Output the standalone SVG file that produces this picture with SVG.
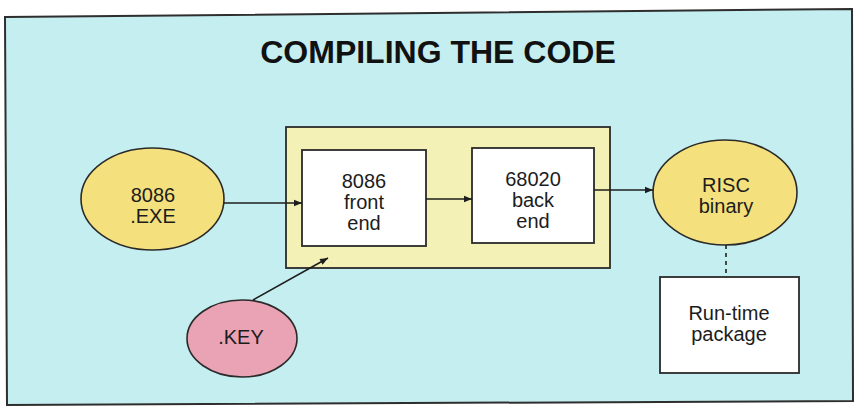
<svg xmlns="http://www.w3.org/2000/svg" width="856" height="407" viewBox="0 0 856 407">
  <defs>
    <style>
      .lbl { font-family: "Liberation Sans", Arial, sans-serif; font-size: 20px; fill: #1c1c1c; text-anchor: middle; }
      .title { font-family: "Liberation Sans", Arial, sans-serif; font-size: 32px; font-weight: bold; fill: #111; text-anchor: middle; }
      .oval { stroke: #2a2a2a; stroke-width: 1.6; }
      .yellow { fill: #f4e07c; }
      .pink { fill: #e9a3b5; }
      .box { fill: #ffffff; stroke: #2a2a2a; stroke-width: 1.8; }
      .conn { stroke: #1e1e1e; stroke-width: 1.6; fill: none; }
    </style>
    <marker id="arrow" viewBox="0 0 10 10" refX="10" refY="5" markerWidth="10" markerHeight="8" markerUnits="userSpaceOnUse" orient="auto">
      <path d="M0,1 L10,5 L0,9 Z" fill="#1e1e1e"/>
    </marker>
  </defs>

  <rect x="0" y="0" width="856" height="407" fill="#ffffff"/>
  <polygon points="5,17 852,9 853,401 7,405" fill="#c5eef0" stroke="#2e2e2e" stroke-width="2"/>

  <text class="title" x="438" y="63">COMPILING THE CODE</text>

  <g id="compiler">
    <rect x="286" y="127" width="324" height="141" fill="#f4f1b6" stroke="#2a2a2a" stroke-width="1.8"/>
  </g>

  <g id="exe">
    <ellipse class="oval yellow" cx="152.5" cy="199" rx="71.5" ry="51"/>
    <text class="lbl" x="153" y="202">8086</text>
    <text class="lbl" x="153" y="223">.EXE</text>
  </g>

  <g id="front-end">
    <rect class="box" x="302" y="150" width="124" height="96"/>
    <text class="lbl" x="364" y="188">8086</text>
    <text class="lbl" x="364" y="209">front</text>
    <text class="lbl" x="364" y="230">end</text>
  </g>

  <g id="back-end">
    <rect class="box" x="472" y="148" width="122" height="95"/>
    <text class="lbl" x="533" y="186">68020</text>
    <text class="lbl" x="533" y="207">back</text>
    <text class="lbl" x="533" y="228">end</text>
  </g>

  <g id="risc">
    <ellipse class="oval yellow" cx="725" cy="192.5" rx="72" ry="52.5"/>
    <text class="lbl" x="726" y="192">RISC</text>
    <text class="lbl" x="726" y="213">binary</text>
  </g>

  <g id="runtime">
    <rect class="box" x="660" y="277" width="139" height="96"/>
    <text class="lbl" x="729" y="320">Run-time</text>
    <text class="lbl" x="729" y="341">package</text>
  </g>

  <g id="key">
    <ellipse class="oval pink" cx="242" cy="338.5" rx="55" ry="38.5"/>
    <text class="lbl" x="241" y="344">.KEY</text>
  </g>

  <g id="connectors">
    <line class="conn" x1="224" y1="203" x2="302" y2="203" marker-end="url(#arrow)"/>
    <line class="conn" x1="426" y1="199" x2="472" y2="199" marker-end="url(#arrow)"/>
    <line class="conn" x1="594" y1="190" x2="653" y2="190" marker-end="url(#arrow)"/>
    <line class="conn" x1="253" y1="300" x2="328" y2="258" marker-end="url(#arrow)"/>
    <line class="conn" x1="726" y1="245" x2="726" y2="277" stroke-dasharray="4 4"/>
  </g>
</svg>
